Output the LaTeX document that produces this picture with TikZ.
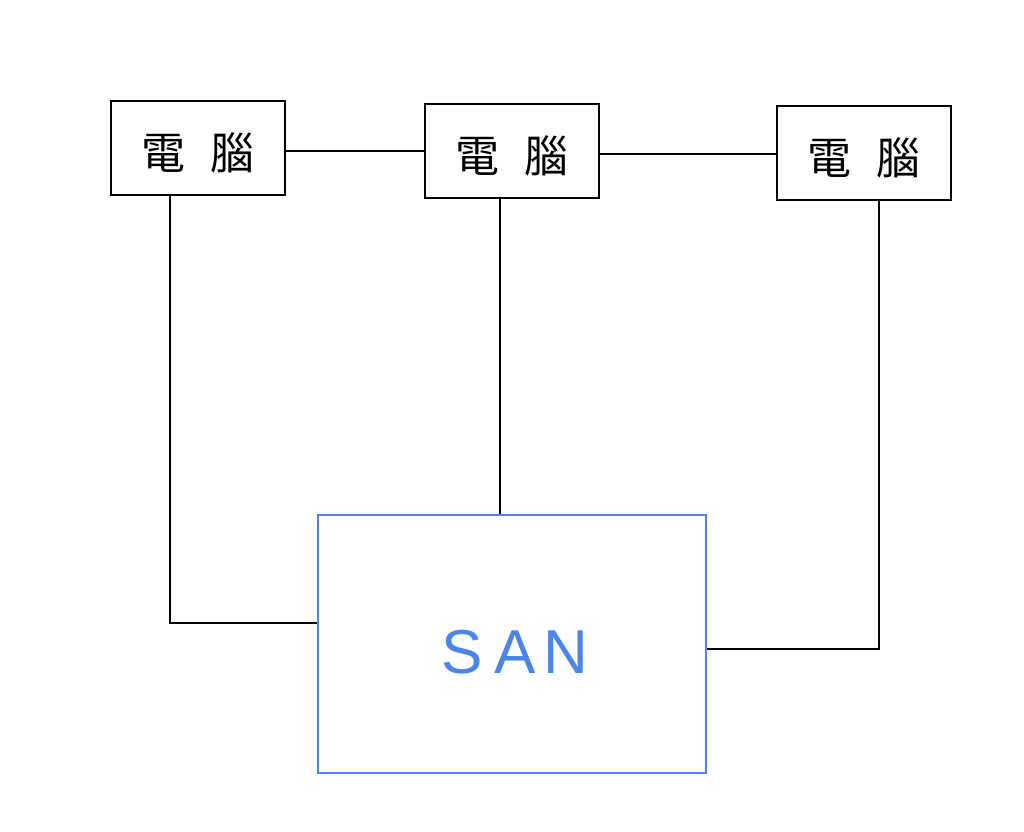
\documentclass[tikz,border=0pt]{standalone}
\usepackage{fontspec}
\newfontfamily\cjk{Noto Sans CJK TC}[Scale=1]
\newfontfamily\sanfont{Liberation Sans}
\definecolor{sanblue}{HTML}{4A86E8}
\tikzset{
  pc/.style={draw=black, line width=2pt, minimum width=174pt, minimum height=94pt, inner sep=0pt, font=\cjk\fontsize{44}{48}\selectfont},
  sanbox/.style={draw=sanblue, line width=2pt, minimum width=388pt, minimum height=258pt, inner sep=0pt, text=sanblue, font=\sanfont\fontsize{62}{68}\selectfont},
  link/.style={line width=2pt, black}
}
\begin{document}
\begin{tikzpicture}[x=1pt,y=-1pt]
\useasboundingbox (0,0) rectangle (1024,831);
\fill[white] (0,0) rectangle (1024,831);
\node[pc] (b1) at (198,148) {\raisebox{-5pt}[\height][\depth]{電\hspace{26pt}腦}};
\node[pc] (b2) at (512,150.5) {\raisebox{-5pt}[\height][\depth]{電\hspace{26pt}腦}};
\node[pc] (b3) at (864,152.5) {\raisebox{-5pt}[\height][\depth]{電\hspace{26pt}腦}};
\node[sanbox] (san) at (512,644) {\raisebox{-8pt}[\height][\depth]{\hspace{6pt}S\hspace{12pt}A\hspace{8pt}N}};
\draw[link] (b1.east |- 0,151) -- (b2.west |- 0,151);
\draw[link] (b2.east |- 0,154) -- (b3.west |- 0,154);
\draw[link] (b1.south -| 170,0) |- (san.west |- 0,623);
\draw[link] (b2.south -| 500,0) -- (san.north -| 500,0);
\draw[link] (b3.south -| 879,0) |- (san.east |- 0,649);
\end{tikzpicture}
\end{document}
